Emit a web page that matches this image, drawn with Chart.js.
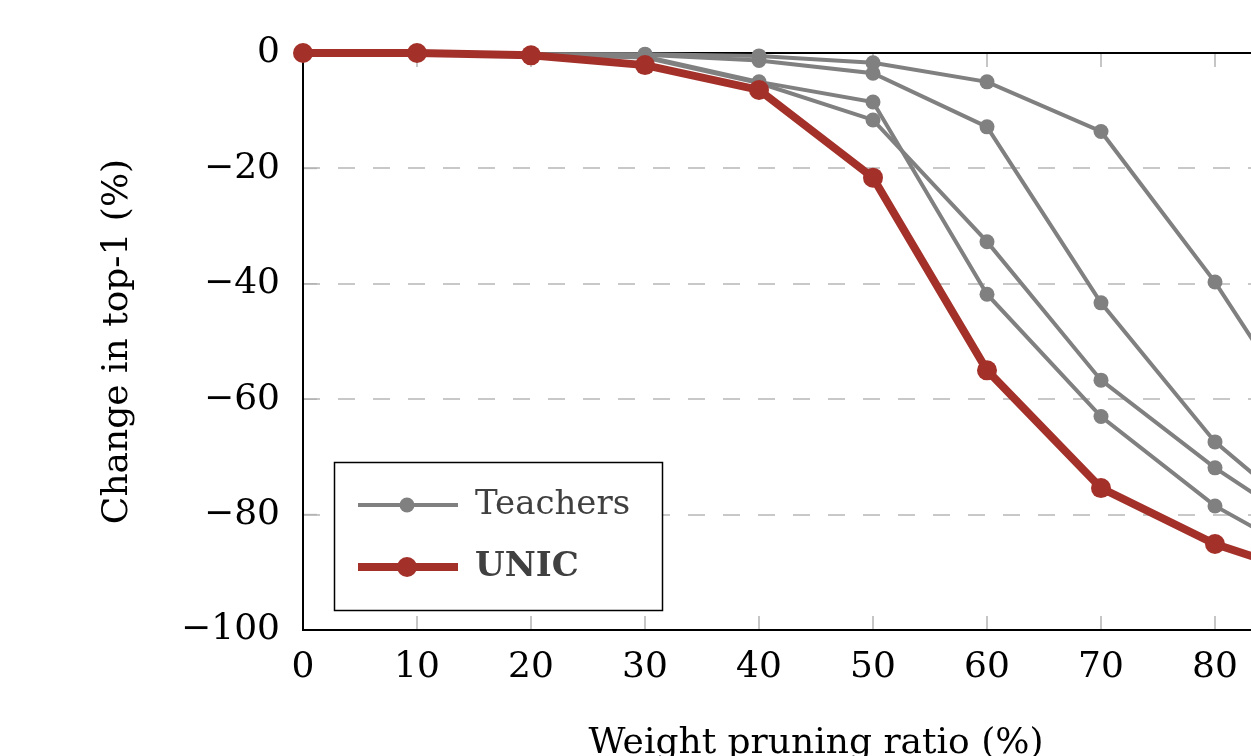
<!DOCTYPE html>
<html>
<head>
<meta charset="utf-8">
<script src="https://cdn.jsdelivr.net/npm/chart.js@4.4.1/dist/chart.umd.min.js"></script>
<style>
  html, body { margin: 0; padding: 0; background: #fff; overflow: hidden; }
  #wrap { width: 1360px; height: 800px; }
</style>
</head>
<body>
<div id="wrap"><canvas id="chart" width="1360" height="800"></canvas></div>
<script>
// pruning ratio on x, drop in top-1 on y
const ratios = [0, 10, 20, 30, 40, 50, 60, 70, 80, 90];
const teacherA = [0, 0, -0.2, -0.2, -0.5, -1.7, -5.0, -13.6, -39.7, -70];
const teacherB = [0, 0, -0.2, -0.3, -1.3, -3.5, -12.8, -43.3, -67.4, -84];
const teacherC = [0, 0, -0.3, -0.6, -5.0, -8.5, -41.8, -63.0, -78.5, -89.5];
const teacherD = [0, 0, -0.3, -0.8, -5.2, -11.6, -32.7, -56.7, -71.9, -85];
const unic = [0, 0, -0.4, -2.1, -6.4, -21.6, -55.0, -75.4, -85.1, -91.6];
const yTicks = [0, -20, -40, -60, -80, -100];

const GRAY = '#808080';
const RED = '#a3312a';
const FONT = 'DejaVu Serif';

const toPts = arr => arr.map((v, i) => ({ x: ratios[i], y: v }));

function teacherSet(arr) {
  return {
    label: 'Teachers', data: toPts(arr), borderColor: GRAY, backgroundColor: GRAY,
    borderWidth: 4, pointRadius: 7.5, pointHoverRadius: 7.5, pointBorderWidth: 0,
    tension: 0, clip: false, order: 1
  };
}

// frame + inward ticks (pgfplots look)
const framePlugin = {
  id: 'frame',
  beforeDatasetsDraw(chart) {
    const { ctx, chartArea: a, scales: { x, y } } = chart;
    ctx.save();
    ctx.strokeStyle = '#b4b4b4';
    ctx.lineWidth = 1.5;
    ratios.forEach(r => {
      const px = x.getPixelForValue(r);
      if (r === 0) return;
      ctx.beginPath();
      ctx.moveTo(px, a.bottom); ctx.lineTo(px, a.bottom - 14);
      ctx.moveTo(px, a.top); ctx.lineTo(px, a.top + 14);
      ctx.stroke();
    });
    yTicks.forEach(t => {
      if (t === 0 || t === -100) return;
      const py = y.getPixelForValue(t);
      ctx.beginPath();
      ctx.moveTo(a.left, py); ctx.lineTo(a.left + 14, py);
      ctx.stroke();
    });
    ctx.strokeStyle = '#000';
    ctx.lineWidth = 2;
    ctx.beginPath();
    ctx.moveTo(a.right, a.top); ctx.lineTo(a.left, a.top);
    ctx.lineTo(a.left, a.bottom); ctx.lineTo(a.right, a.bottom);
    ctx.lineTo(a.right, a.top);
    ctx.stroke();
    ctx.restore();
  },
  afterDraw(chart) {
    const { ctx } = chart;
    ctx.save();
    ctx.fillStyle = '#fff';
    ctx.fillRect(334, 462, 328, 148);
    ctx.strokeStyle = '#000';
    ctx.lineWidth = 1.5;
    ctx.strokeRect(334.5, 462.5, 328, 148);
    const rows = [
      { y: 505, color: GRAY, lw: 4, r: 7.5, text: 'Teachers', bold: false },
      { y: 567, color: RED, lw: 8, r: 10, text: 'UNIC', bold: true }
    ];
    rows.forEach(row => {
      ctx.strokeStyle = row.color;
      ctx.lineWidth = row.lw;
      ctx.beginPath(); ctx.moveTo(358, row.y); ctx.lineTo(458, row.y); ctx.stroke();
      ctx.fillStyle = row.color;
      ctx.beginPath(); ctx.arc(407, row.y, row.r, 0, Math.PI * 2); ctx.fill();
      ctx.fillStyle = '#404040';
      ctx.font = (row.bold ? 'bold ' : '') + '34px "' + FONT + '"';
      ctx.textBaseline = 'middle';
      ctx.textAlign = 'left';
      ctx.fillText(row.text, 475, row.y);
    });
    ctx.restore();
  }
};

new Chart(document.getElementById('chart'), {
  type: 'line',
  data: {
    datasets: [
      {
        label: 'UNIC', data: toPts(unic), borderColor: RED, backgroundColor: RED,
        borderWidth: 8, pointRadius: 10, pointHoverRadius: 10, pointBorderWidth: 0,
        tension: 0, clip: false, order: 0
      },
      teacherSet(teacherA),
      teacherSet(teacherB),
      teacherSet(teacherC),
      teacherSet(teacherD)
    ]
  },
  options: {
    responsive: false,
    animation: false,
    events: [],
    layout: { padding: { left: 0, top: 53, right: 31, bottom: 0 } },
    plugins: { legend: { display: false }, tooltip: { enabled: false } },
    scales: {
      x: {
        type: 'linear', min: 0, max: 90,
        afterFit: s => { s.height = 170; },
        grid: { display: false },
        border: { display: false },
        ticks: {
          stepSize: 10, padding: 8, color: '#000',
          font: { family: FONT, size: 36 }, maxRotation: 0
        },
        title: {
          display: true, text: 'Weight pruning ratio (%)', color: '#000',
          font: { family: FONT, size: 36 }, padding: { top: 0, bottom: 35 }
        }
      },
      y: {
        type: 'linear', min: -100, max: 0,
        afterFit: s => { s.width = 303; },
        afterBuildTicks: s => { s.ticks = yTicks.map(v => ({ value: v })); },
        grid: {
          drawTicks: false,
          lineWidth: 2,
          color: c => (c.tick && (c.tick.value === 0 || c.tick.value === -100)) ? 'rgba(0,0,0,0)' : '#c8c8c8'
        },
        border: { display: false, dash: [17, 18] },
        ticks: {
          padding: 23, color: '#000',
          font: { family: FONT, size: 36 },
          callback: v => v < 0 ? '\u2212' + Math.abs(v) : String(v)
        },
        title: {
          display: true, text: 'Change in top-1 (%)', color: '#000',
          font: { family: FONT, size: 36 }, padding: { top: 96, bottom: 0 }
        }
      }
    }
  },
  plugins: [framePlugin]
});
</script>
</body>
</html>
